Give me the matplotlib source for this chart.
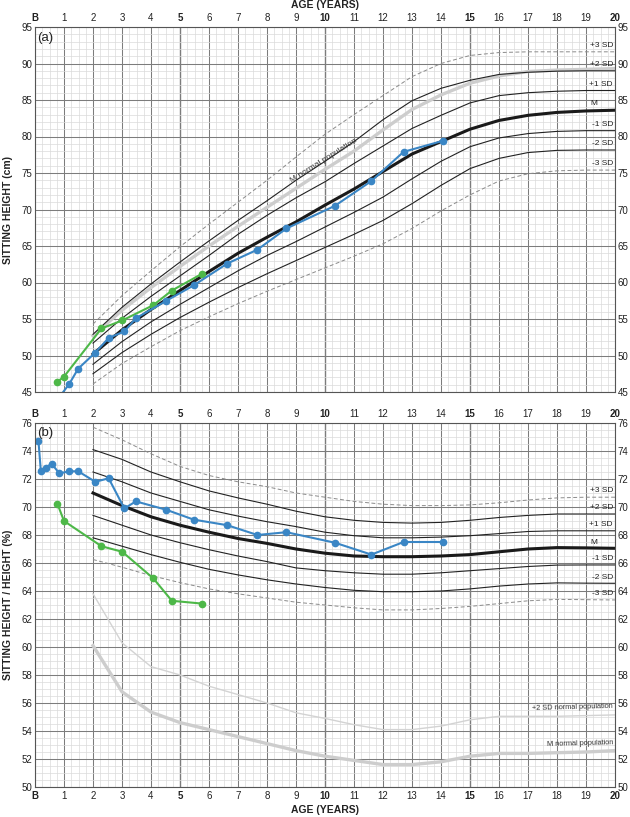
import matplotlib.pyplot as plt
from matplotlib.ticker import MultipleLocator

plt.rcParams['font.family'] = ['Liberation Sans', 'DejaVu Sans']

# reference curve ages (years)
ref_ages = [2, 3, 4, 5, 6, 7, 8, 9, 10, 11, 12, 13, 14, 15, 16, 17, 18, 19, 20]

# (a) sitting height (cm) reference curves
sh_p3 = [54.3, 58.2, 61.6, 64.9, 68.0, 71.0, 74.0, 77.2, 80.3, 83.0, 85.6, 88.2, 90.0, 91.1, 91.5, 91.6, 91.6, 91.6, 91.6]
sh_p2 = [52.9, 56.6, 59.8, 62.8, 65.7, 68.5, 71.2, 74.0, 76.6, 79.3, 82.3, 84.9, 86.6, 87.7, 88.5, 88.8, 88.95, 89.0, 89.0]
sh_p1 = [51.7, 55.1, 58.1, 60.9, 63.7, 66.6, 69.2, 71.6, 73.8, 76.3, 78.7, 81.1, 82.9, 84.6, 85.6, 86.0, 86.2, 86.3, 86.3]
sh_m = [50.2, 53.5, 56.3, 58.9, 61.5, 64.0, 66.2, 68.3, 70.6, 72.8, 75.2, 77.6, 79.3, 81.0, 82.2, 82.9, 83.3, 83.5, 83.6]
sh_m1 = [48.8, 51.9, 54.6, 57.0, 59.3, 61.6, 63.7, 65.6, 67.6, 69.6, 71.7, 74.2, 76.6, 78.6, 79.8, 80.4, 80.7, 80.8, 80.8]
sh_m2 = [47.5, 50.4, 52.9, 55.2, 57.3, 59.3, 61.2, 63.0, 64.8, 66.6, 68.5, 70.8, 73.3, 75.6, 77.0, 77.8, 78.1, 78.15, 78.15]
sh_m3 = [46.1, 48.9, 51.2, 53.4, 55.3, 57.1, 58.8, 60.4, 62.0, 63.6, 65.3, 67.4, 69.8, 72.0, 73.9, 74.9, 75.3, 75.4, 75.4]
sh_norm_m = [52.7, 56.2, 59.3, 62.2, 65.0, 67.7, 70.3, 72.9, 75.5, 78.0, 80.9, 83.7, 85.7, 87.3, 88.3, 88.9, 89.1, 89.2, 89.3]

# (b) sitting height / height (%) reference curves
rt_p3 = [75.7, 74.8, 73.8, 72.9, 72.25, 71.8, 71.45, 71.0, 70.7, 70.4, 70.2, 70.1, 70.1, 70.15, 70.3, 70.5, 70.65, 70.7, 70.7]
rt_p2 = [74.1, 73.4, 72.5, 71.8, 71.15, 70.65, 70.2, 69.7, 69.3, 69.05, 68.9, 68.85, 68.9, 69.05, 69.25, 69.4, 69.5, 69.5, 69.5]
rt_p1 = [72.5, 71.8, 71.0, 70.4, 69.8, 69.35, 68.95, 68.6, 68.2, 67.95, 67.8, 67.8, 67.85, 67.95, 68.1, 68.25, 68.3, 68.3, 68.3]
rt_m = [71.0, 70.1, 69.3, 68.7, 68.2, 67.75, 67.4, 67.0, 66.7, 66.5, 66.45, 66.45, 66.5, 66.6, 66.8, 67.0, 67.1, 67.08, 67.05]
rt_m1 = [69.4, 68.7, 68.0, 67.45, 66.95, 66.5, 66.1, 65.65, 65.45, 65.3, 65.2, 65.2, 65.3, 65.45, 65.6, 65.75, 65.85, 65.86, 65.86]
rt_m2 = [67.8, 67.2, 66.6, 66.05, 65.55, 65.15, 64.8, 64.5, 64.25, 64.05, 63.95, 63.95, 64.0, 64.15, 64.35, 64.5, 64.58, 64.56, 64.55]
rt_m3 = [66.25, 65.7, 65.1, 64.6, 64.15, 63.8, 63.5, 63.2, 63.0, 62.8, 62.65, 62.65, 62.75, 62.9, 63.1, 63.3, 63.4, 63.38, 63.36]
rt_norm_p2 = [63.8, 60.3, 58.6, 58.0, 57.2, 56.6, 56.0, 55.3, 54.9, 54.45, 54.1, 54.1, 54.35, 54.8, 55.05, 55.05, 55.05, 55.1, 55.15]
rt_norm_m = [60.1, 56.8, 55.35, 54.6, 54.1, 53.6, 53.1, 52.6, 52.2, 51.9, 51.6, 51.6, 51.8, 52.2, 52.4, 52.4, 52.45, 52.5, 52.6]

# patients
blue_ages_a = [0.84, 1.18, 1.49, 2.08, 2.54, 3.08, 3.48, 4.53, 5.47, 6.63, 7.67, 8.67, 10.34, 11.6, 12.71, 14.06]
blue_sh = [44.3, 46.1, 48.2, 50.4, 52.4, 53.3, 55.1, 57.5, 59.6, 62.6, 64.5, 67.4, 70.5, 73.9, 77.9, 79.4]
blue_ages_b = [0.12, 0.2, 0.37, 0.57, 0.84, 1.18, 1.49, 2.08, 2.54, 3.08, 3.48, 4.53, 5.47, 6.63, 7.67, 8.67, 10.34, 11.6, 12.71, 14.06]
blue_rt = [74.7, 72.6, 72.8, 73.1, 72.4, 72.55, 72.55, 71.8, 72.05, 69.9, 70.4, 69.8, 69.1, 68.7, 68.0, 68.2, 67.45, 66.6, 67.5, 67.5]
green_ages = [0.77, 1.0, 2.29, 3.01, 4.08, 4.72, 5.76]
green_sh = [46.4, 47.1, 53.7, 54.8, 56.9, 58.9, 61.2]
green_rt = [70.25, 69.0, 67.2, 66.8, 64.9, 63.3, 63.1]

age_labels = ['B'] + [str(i) for i in range(1, 21)]
bold_labels = ['B', '5', '10', '15', '20']

BLUE = '#3a86c5'
GREEN = '#4db848'


def setup(ax, ymin, ymax, ymajor, yminor, bottom_labels):
    ax.set_xlim(0, 20)
    ax.set_ylim(ymin, ymax)
    ax.set_xticks(range(0, 21))
    ax.set_xticklabels(age_labels)
    ax.xaxis.set_minor_locator(MultipleLocator(0.25))
    ax.yaxis.set_major_locator(MultipleLocator(ymajor))
    ax.yaxis.set_minor_locator(MultipleLocator(yminor))
    ax.grid(which='minor', color='#dadada', lw=0.5)
    ax.grid(which='major', color='#7c7c7c', lw=0.75)
    for v in (5, 10, 15):
        ax.axvline(v, color='#444444', lw=0.9, zorder=0.5)
    ax.set_axisbelow(True)
    ax.tick_params(which='both', length=0, labelsize=7, colors='#222222', pad=2)
    ax.tick_params(axis='x', labeltop=True, labelbottom=bottom_labels, pad=3)
    ax.tick_params(axis='y', labelleft=True, labelright=True)
    for t in ax.xaxis.get_major_ticks():
        if t.label1.get_text() in bold_labels:
            t.label1.set_fontweight('bold')
            t.label2.set_fontweight('bold')
    for s in ax.spines.values():
        s.set_color('#555555')
        s.set_linewidth(0.8)


def sd_curves(ax, curves, labels):
    for vals, lab in zip(curves, labels):
        if lab in ('+3 SD', '-3 SD'):
            ax.plot(ref_ages, vals, color='#8a8a8a', lw=0.7, ls=(0, (4, 2.5)))
        elif lab == 'M':
            ax.plot(ref_ages, vals, color='#1a1a1a', lw=2.2)
        else:
            ax.plot(ref_ages, vals, color='#222222', lw=0.8)
        xpos = 19.4 if lab == 'M' else 19.93
        ax.annotate(lab, (xpos, vals[-1]), xytext=(0, 2), textcoords='offset points',
                    ha='right', va='bottom', fontsize=6, color='#222222')


fig = plt.figure(figsize=(6.3, 8.17), dpi=100)
ax1 = fig.add_axes([35 / 630, 1 - 392 / 817, 580 / 630, 365 / 817])
ax2 = fig.add_axes([35 / 630, 1 - 787 / 817, 580 / 630, 364 / 817])

# panel (a)
setup(ax1, 45, 95, 5, 1, False)
ax1.plot(ref_ages, sh_norm_m, color='#cdcdcd', lw=2.4)
sd_curves(ax1, [sh_p3, sh_p2, sh_p1, sh_m, sh_m1, sh_m2, sh_m3],
          ['+3 SD', '+2 SD', '+1 SD', 'M', '-1 SD', '-2 SD', '-3 SD'])
ax1.text(9.95, 76.7, 'M normal population', rotation=32, fontsize=6, color='#333333',
         ha='center', va='center', rotation_mode='anchor')
ax1.plot(green_ages, green_sh, '-o', color=GREEN, lw=1.5, ms=4.5)
ax1.plot(blue_ages_a, blue_sh, '-o', color=BLUE, lw=1.5, ms=4.5)
ax1.text(0.08, 94.3, '(a)', fontsize=9.5, ha='left', va='top', color='#222222')

# panel (b)
setup(ax2, 50, 76, 2, 0.5, True)
ax2.plot(ref_ages, rt_norm_p2, color='#d3d3d3', lw=1.0)
ax2.plot(ref_ages, rt_norm_m, color='#cdcdcd', lw=2.4)
ax2.annotate('+2 SD normal population', (19.93, rt_norm_p2[-1]), xytext=(0, 2),
             textcoords='offset points', ha='right', va='bottom', fontsize=5.3, rotation=1.5,
             color='#333333')
ax2.annotate('M normal population', (19.93, rt_norm_m[-1]), xytext=(0, 2),
             textcoords='offset points', ha='right', va='bottom', fontsize=5.3, rotation=1.5,
             color='#333333')
sd_curves(ax2, [rt_p3, rt_p2, rt_p1, rt_m, rt_m1, rt_m2, rt_m3],
          ['+3 SD', '+2 SD', '+1 SD', 'M', '-1 SD', '-2 SD', '-3 SD'])
ax2.plot(green_ages, green_rt, '-o', color=GREEN, lw=1.5, ms=4.5)
ax2.plot(blue_ages_b, blue_rt, '-o', color=BLUE, lw=1.5, ms=4.5)
ax2.text(0.08, 75.7, '(b)', fontsize=9.5, ha='left', va='top', color='#222222')

fig.text(0.516, 1 - 5 / 817, 'AGE (YEARS)', ha='center', va='center', fontsize=7.5,
         fontweight='bold', color='#222222')
fig.text(0.516, 1 - 810 / 817, 'AGE (YEARS)', ha='center', va='center', fontsize=7.5,
         fontweight='bold', color='#222222')
fig.text(8 / 630, 1 - 210 / 817, 'SITTING HEIGHT (cm)', rotation=90, ha='center', va='center',
         fontsize=7.5, fontweight='bold', color='#222222')
fig.text(8 / 630, 1 - 605 / 817, 'SITTING HEIGHT / HEIGHT (%)', rotation=90, ha='center',
         va='center', fontsize=7.5, fontweight='bold', color='#222222')

fig.savefig('out.png', dpi=100)
